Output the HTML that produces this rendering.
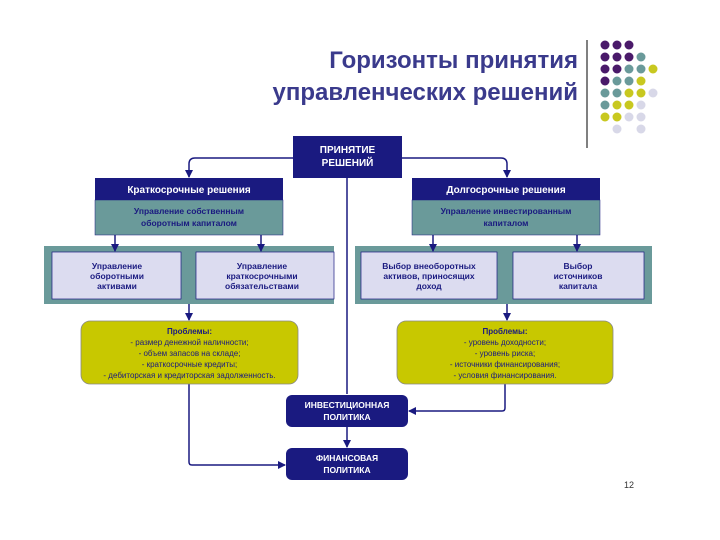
<!DOCTYPE html>
<html><head><meta charset="utf-8"><style>
html,body{margin:0;padding:0;background:#fff;}
svg{display:block;font-family:"Liberation Sans","DejaVu Sans",sans-serif;}
</style></head><body>
<svg width="720" height="540" viewBox="0 0 720 540" xmlns="http://www.w3.org/2000/svg">
<defs><marker id="a" markerWidth="8" markerHeight="8" refX="7" refY="4" orient="auto" markerUnits="userSpaceOnUse"><path d="M0,0 L8,4 L0,8 z" fill="#1a1a80"/></marker></defs>
<text x="578" y="68" text-anchor="end" font-size="24" font-weight="bold" fill="#3a3a8c">Горизонты принятия</text>
<text x="578" y="100" text-anchor="end" font-size="24" font-weight="bold" fill="#3a3a8c">управленческих решений</text>
<line x1="587" y1="40" x2="587" y2="148" stroke="#000" stroke-width="1"/>
<g>
<circle cx="605" cy="45" r="4.5" fill="#4a1a6a"/><circle cx="617" cy="45" r="4.5" fill="#4a1a6a"/><circle cx="629" cy="45" r="4.5" fill="#4a1a6a"/>
<circle cx="605" cy="57" r="4.5" fill="#4a1a6a"/><circle cx="617" cy="57" r="4.5" fill="#4a1a6a"/><circle cx="629" cy="57" r="4.5" fill="#4a1a6a"/><circle cx="641" cy="57" r="4.5" fill="#6a9a9a"/>
<circle cx="605" cy="69" r="4.5" fill="#4a1a6a"/><circle cx="617" cy="69" r="4.5" fill="#4a1a6a"/><circle cx="629" cy="69" r="4.5" fill="#6a9a9a"/><circle cx="641" cy="69" r="4.5" fill="#6a9a9a"/><circle cx="653" cy="69" r="4.5" fill="#c8c820"/>
<circle cx="605" cy="81" r="4.5" fill="#4a1a6a"/><circle cx="617" cy="81" r="4.5" fill="#6a9a9a"/><circle cx="629" cy="81" r="4.5" fill="#6a9a9a"/><circle cx="641" cy="81" r="4.5" fill="#c8c820"/>
<circle cx="605" cy="93" r="4.5" fill="#6a9a9a"/><circle cx="617" cy="93" r="4.5" fill="#6a9a9a"/><circle cx="629" cy="93" r="4.5" fill="#c8c820"/><circle cx="641" cy="93" r="4.5" fill="#c8c820"/><circle cx="653" cy="93" r="4.5" fill="#d8d8e8"/>
<circle cx="605" cy="105" r="4.5" fill="#6a9a9a"/><circle cx="617" cy="105" r="4.5" fill="#c8c820"/><circle cx="629" cy="105" r="4.5" fill="#c8c820"/><circle cx="641" cy="105" r="4.5" fill="#d8d8e8"/>
<circle cx="605" cy="117" r="4.5" fill="#c8c820"/><circle cx="617" cy="117" r="4.5" fill="#c8c820"/><circle cx="629" cy="117" r="4.5" fill="#d8d8e8"/><circle cx="641" cy="117" r="4.5" fill="#d8d8e8"/>
<circle cx="617" cy="129" r="4.5" fill="#d8d8e8"/><circle cx="641" cy="129" r="4.5" fill="#d8d8e8"/>
</g>
<g stroke="#1a1a80" stroke-width="1.5" fill="none">
<path d="M293,158 H195 Q189,158 189,164 V177" marker-end="url(#a)"/>
<path d="M402,158 H501 Q507,158 507,164 V177" marker-end="url(#a)"/>
<line x1="347" y1="178" x2="347" y2="394"/>
<line x1="347" y1="427" x2="347" y2="447" marker-end="url(#a)"/>
<line x1="189" y1="304" x2="189" y2="320" marker-end="url(#a)"/>
<line x1="507" y1="304" x2="507" y2="320" marker-end="url(#a)"/>
<path d="M189,384 V462 Q189,465 192,465 H285" marker-end="url(#a)"/>
<path d="M505,384 V408 Q505,411 502,411 H409" marker-end="url(#a)"/>
</g>
<rect x="293" y="136" width="109" height="42" fill="#1a1a80"/>
<text x="347.5" y="153" text-anchor="middle" font-size="10" font-weight="bold" fill="#fff">ПРИНЯТИЕ</text>
<text x="347.5" y="166" text-anchor="middle" font-size="10" font-weight="bold" fill="#fff">РЕШЕНИЙ</text>
<rect x="95" y="178" width="188" height="22" fill="#1a1a80"/>
<text x="189" y="193" text-anchor="middle" font-size="10" font-weight="bold" fill="#fff">Краткосрочные решения</text>
<rect x="95" y="200" width="188" height="35" fill="#6a9a9a" stroke="#1a1a80" stroke-width="0.5"/>
<text x="189" y="214" text-anchor="middle" font-size="8.5" font-weight="bold" fill="#1a1a80">Управление собственным</text>
<text x="189" y="226" text-anchor="middle" font-size="8.5" font-weight="bold" fill="#1a1a80">оборотным капиталом</text>
<rect x="412" y="178" width="188" height="22" fill="#1a1a80"/>
<text x="506" y="193" text-anchor="middle" font-size="10" font-weight="bold" fill="#fff">Долгосрочные решения</text>
<rect x="412" y="200" width="188" height="35" fill="#6a9a9a" stroke="#1a1a80" stroke-width="0.5"/>
<text x="506" y="214" text-anchor="middle" font-size="8.5" font-weight="bold" fill="#1a1a80">Управление инвестированным</text>
<text x="506" y="226" text-anchor="middle" font-size="8.5" font-weight="bold" fill="#1a1a80">капиталом</text>
<rect x="44" y="246" width="290" height="58" fill="#6a9a9a"/>
<rect x="52" y="252" width="129" height="47" fill="#dcdcf0" stroke="#1a1a80" stroke-width="0.7"/>
<rect x="196" y="252" width="138" height="47" fill="#dcdcf0" stroke="#1a1a80" stroke-width="0.7"/>
<text font-size="8.5" font-weight="bold" fill="#1a1a80" text-anchor="middle"><tspan x="117" y="269">Управление</tspan><tspan x="117" y="279">оборотными</tspan><tspan x="117" y="289">активами</tspan></text>
<text font-size="8.5" font-weight="bold" fill="#1a1a80" text-anchor="middle"><tspan x="262" y="269">Управление</tspan><tspan x="262" y="279">краткосрочными</tspan><tspan x="262" y="289">обязательствами</tspan></text>
<rect x="355" y="246" width="297" height="58" fill="#6a9a9a"/>
<rect x="361" y="252" width="136" height="47" fill="#dcdcf0" stroke="#1a1a80" stroke-width="0.7"/>
<rect x="513" y="252" width="131" height="47" fill="#dcdcf0" stroke="#1a1a80" stroke-width="0.7"/>
<text font-size="8.5" font-weight="bold" fill="#1a1a80" text-anchor="middle"><tspan x="429" y="269">Выбор внеоборотных</tspan><tspan x="429" y="279">активов, приносящих</tspan><tspan x="429" y="289">доход</tspan></text>
<text font-size="8.5" font-weight="bold" fill="#1a1a80" text-anchor="middle"><tspan x="578" y="269">Выбор</tspan><tspan x="578" y="279">источников</tspan><tspan x="578" y="289">капитала</tspan></text>
<g stroke="#1a1a80" stroke-width="1.5" fill="none">
<line x1="115" y1="235" x2="115" y2="251" marker-end="url(#a)"/>
<line x1="261" y1="235" x2="261" y2="251" marker-end="url(#a)"/>
<line x1="433" y1="235" x2="433" y2="251" marker-end="url(#a)"/>
<line x1="577" y1="235" x2="577" y2="251" marker-end="url(#a)"/>
</g>
<rect x="81" y="321" width="217" height="63" rx="9" fill="#c8c800" stroke="#888" stroke-width="0.8"/>
<text font-size="8" fill="#1a1a80" text-anchor="middle"><tspan x="189.5" y="334" font-weight="bold">Проблемы:</tspan><tspan x="189.5" y="345">- размер денежной наличности;</tspan><tspan x="189.5" y="356">- объем запасов на складе;</tspan><tspan x="189.5" y="367">- краткосрочные кредиты;</tspan><tspan x="189.5" y="378">- дебиторская и кредиторская задолженность.</tspan></text>
<rect x="397" y="321" width="216" height="63" rx="9" fill="#c8c800" stroke="#888" stroke-width="0.8"/>
<text font-size="8" fill="#1a1a80" text-anchor="middle"><tspan x="505" y="334" font-weight="bold">Проблемы:</tspan><tspan x="505" y="345">- уровень доходности;</tspan><tspan x="505" y="356">- уровень риска;</tspan><tspan x="505" y="367">- источники финансирования;</tspan><tspan x="505" y="378">- условия финансирования.</tspan></text>
<rect x="286" y="395" width="122" height="32" rx="6" fill="#1a1a80"/>
<text font-size="8.5" font-weight="bold" fill="#fff" text-anchor="middle"><tspan x="347" y="408">ИНВЕСТИЦИОННАЯ</tspan><tspan x="347" y="420">ПОЛИТИКА</tspan></text>
<rect x="286" y="448" width="122" height="32" rx="6" fill="#1a1a80"/>
<text font-size="8.5" font-weight="bold" fill="#fff" text-anchor="middle"><tspan x="347" y="461">ФИНАНСОВАЯ</tspan><tspan x="347" y="473">ПОЛИТИКА</tspan></text>
<text x="634" y="488" text-anchor="end" font-size="9" fill="#333">12</text>
</svg>
</body></html>
